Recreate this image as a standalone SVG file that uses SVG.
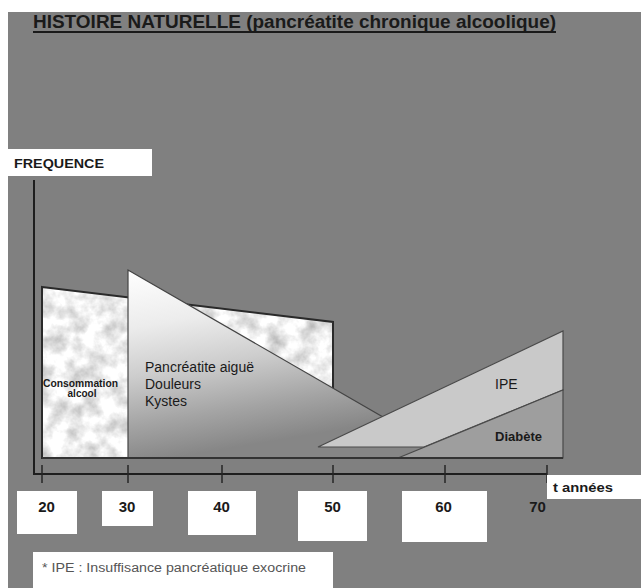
<svg xmlns="http://www.w3.org/2000/svg" width="641" height="588" viewBox="0 0 641 588">
  <style>
    .lbl { font-family: "Liberation Sans", Arial, sans-serif; font-weight: bold; fill: #1a1a1a; }
    .box { fill: #ffffff; }
    .axis { stroke: #1e1e1e; stroke-width: 2; fill: none; }
    .tick { stroke: #262626; stroke-width: 1.5; }
    .reg { font-family: "Liberation Sans", Arial, sans-serif; fill: #1a1a1a; }
  </style>
  <defs>
    <filter id="marble" x="0" y="0" width="1" height="1" color-interpolation-filters="sRGB">
      <feTurbulence type="fractalNoise" baseFrequency="0.06" numOctaves="4" seed="7" result="n"/>
      <feColorMatrix in="n" type="matrix" values="0.5 0 0 0 0.68  0.5 0 0 0 0.68  0.5 0 0 0 0.68  0 0 0 0 1" result="g"/>
      <feComposite in="g" in2="SourceGraphic" operator="in"/>
    </filter>
    <linearGradient id="pancGrad" gradientUnits="userSpaceOnUse" x1="128" y1="270" x2="160" y2="460">
      <stop offset="0" stop-color="#ffffff"/>
      <stop offset="0.3" stop-color="#ececec"/>
      <stop offset="0.55" stop-color="#cdcdcd"/>
      <stop offset="0.8" stop-color="#a4a4a4"/>
      <stop offset="1" stop-color="#868686"/>
    </linearGradient>
  </defs>

  <rect x="0" y="0" width="641" height="588" fill="#ffffff"/>
  <rect x="8" y="12" width="633" height="576" fill="#808080"/>

  <g id="title">
    <text x="33" y="28" class="lbl" font-size="18" textLength="523" lengthAdjust="spacingAndGlyphs">HISTOIRE NATURELLE (pancréatite chronique alcoolique)</text>
    <line x1="33" y1="32" x2="556" y2="32" stroke="#1a1a1a" stroke-width="2"/>
  </g>

  <g id="frequence">
    <rect x="8" y="149" width="144" height="27" class="box"/>
    <text x="14" y="168" class="lbl" font-size="12" textLength="90" lengthAdjust="spacingAndGlyphs">FREQUENCE</text>
  </g>

  <g id="consommation">
    <polygon points="42,287 333,322 333,458 42,458" fill="#ffffff" filter="url(#marble)"/>
    <polygon points="42,287 333,322 333,458 42,458" fill="none" stroke="#2a2a2a" stroke-width="2"/>
    <text x="80.5" y="387" class="lbl" font-size="10" text-anchor="middle" textLength="75" lengthAdjust="spacingAndGlyphs">Consommation</text>
    <text x="82" y="397" class="lbl" font-size="10" text-anchor="middle">alcool</text>
  </g>

  <g id="pancreatite">
    <polygon points="128,270 128,458 454,458" fill="url(#pancGrad)" stroke="#444" stroke-width="1.2"/>
    <text x="145" y="372" class="reg" font-size="14">Pancréatite aiguë</text>
    <text x="145" y="389" class="reg" font-size="14">Douleurs</text>
    <text x="145" y="406" class="reg" font-size="14">Kystes</text>
  </g>

  <g id="ipe">
    <polygon points="318,447 563,331 563,390 424,447" fill="#c9c9c9" stroke="#4a4a4a" stroke-width="1.2"/>
    <text x="495" y="389" class="reg" font-size="14">IPE</text>
  </g>

  <g id="diabete">
    <polygon points="398,458 563,390 563,458" fill="#9e9e9e" stroke="#4a4a4a" stroke-width="1.2"/>
    <text x="495" y="441" class="lbl" font-size="12" textLength="47" lengthAdjust="spacingAndGlyphs">Diabète</text>
  </g>

  <g id="connectors">
    <line x1="42" y1="458" x2="563" y2="458" stroke="#333" stroke-width="2"/>
    <polyline points="34,180 34,474 547,474" class="axis"/>
    <line x1="42" y1="465" x2="42" y2="483" class="tick"/>
    <line x1="128" y1="465" x2="128" y2="483" class="tick"/>
    <line x1="222" y1="465" x2="222" y2="483" class="tick"/>
    <line x1="333" y1="465" x2="333" y2="483" class="tick"/>
    <line x1="445" y1="465" x2="445" y2="483" class="tick"/>
    <line x1="547" y1="465" x2="547" y2="483" class="tick"/>
  </g>

  <g id="tick-20">
    <rect x="17" y="491" width="60" height="43" class="box"/>
    <text x="46.5" y="512" class="lbl" font-size="15" text-anchor="middle">20</text>
  </g>
  <g id="tick-30">
    <rect x="102" y="491" width="51" height="35" class="box"/>
    <text x="127" y="512" class="lbl" font-size="15" text-anchor="middle">30</text>
  </g>
  <g id="tick-40">
    <rect x="188" y="491" width="68" height="44" class="box"/>
    <text x="221.5" y="512" class="lbl" font-size="15" text-anchor="middle">40</text>
  </g>
  <g id="tick-50">
    <rect x="298" y="491" width="69" height="50" class="box"/>
    <text x="332.5" y="512" class="lbl" font-size="15" text-anchor="middle">50</text>
  </g>
  <g id="tick-60">
    <rect x="402" y="491" width="85" height="51" class="box"/>
    <text x="443.5" y="512" class="lbl" font-size="15" text-anchor="middle">60</text>
  </g>
  <g id="tick-70">
    <text x="537.5" y="512" class="lbl" font-size="15" text-anchor="middle">70</text>
  </g>
  <g id="t-annees">
    <rect x="547" y="475" width="94" height="24" class="box"/>
    <text x="553" y="492" class="lbl" font-size="13" textLength="60" lengthAdjust="spacingAndGlyphs">t années</text>
  </g>

  <g id="footnote">
    <rect x="33" y="552" width="300" height="36" class="box"/>
    <text x="42" y="572" class="reg" font-size="12" textLength="264" lengthAdjust="spacingAndGlyphs" style="fill:#555">* IPE : Insuffisance pancréatique exocrine</text>
  </g>
</svg>
